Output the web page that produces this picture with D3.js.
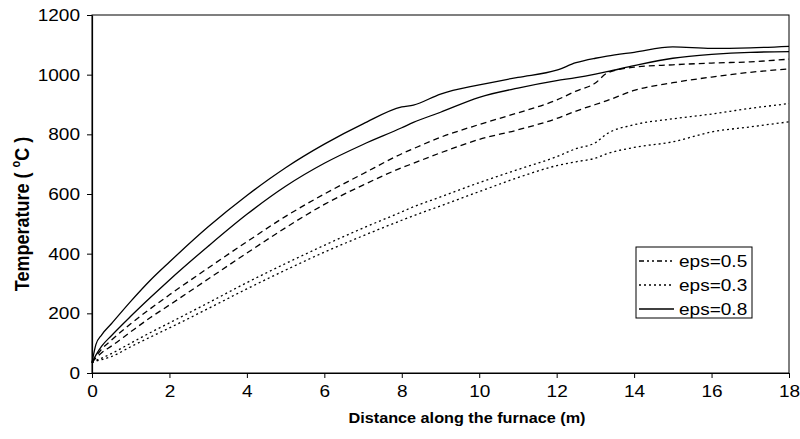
<!DOCTYPE html>
<html><head><meta charset="utf-8">
<script src="https://cdn.jsdelivr.net/npm/d3@7"></script>
<style>html,body{margin:0;padding:0;background:#fff;}svg{display:block;}</style>
</head><body>
<svg id="chart" width="800" height="439"></svg>
<script>
// ---- data ----
const distance = [0, 0.1, 0.25, 0.5, 1, 1.5, 2, 3, 4, 5, 6, 7, 8, 8.3, 9, 10, 11, 12, 12.5, 13, 13.3, 14, 15, 16, 17, 18];
const eps08_upper = [35, 95, 128, 165, 240, 310, 372, 490, 595, 688, 767, 835, 892, 898, 935, 966, 991, 1015, 1040, 1055, 1062, 1075, 1093, 1088, 1090, 1095];
const eps08_lower = [35, 60, 90, 125, 190, 252, 312, 425, 532, 626, 703, 766, 822, 840, 874, 924, 955, 980, 990, 1002, 1010, 1030, 1055, 1068, 1075, 1077];
const eps05_upper = [35, 55, 80, 110, 165, 215, 262, 352, 440, 525, 600, 668, 735, 752, 790, 833, 872, 915, 945, 972, 1005, 1025, 1033, 1039, 1043, 1052];
const eps05_lower = [35, 50, 68, 90, 138, 185, 228, 315, 402, 487, 565, 630, 688, 703, 738, 783, 815, 853, 878, 900, 913, 947, 973, 992, 1008, 1019];
const eps03_upper = [35, 42, 50, 65, 100, 135, 168, 235, 303, 367, 428, 486, 540, 557, 590, 638, 682, 725, 752, 772, 802, 832, 852, 868, 887, 903];
const eps03_lower = [35, 40, 45, 55, 88, 120, 151, 216, 282, 345, 405, 460, 512, 527, 560, 608, 655, 695, 708, 720, 735, 756, 775, 808, 825, 842];
const xTicks = [0, 2, 4, 6, 8, 10, 12, 14, 16, 18];
const yTicks = [0, 200, 400, 600, 800, 1000, 1200];
const legendLabels = ["eps=0.5", "eps=0.3", "eps=0.8"];

const seriesList = [
  {key: "eps=0.8", values: eps08_upper, dash: null},
  {key: "eps=0.8", values: eps08_lower, dash: null},
  {key: "eps=0.5", values: eps05_upper, dash: "6,4"},
  {key: "eps=0.5", values: eps05_lower, dash: "6,4"},
  {key: "eps=0.3", values: eps03_upper, dash: "2,3"},
  {key: "eps=0.3", values: eps03_lower, dash: "2,3"}
];
const legendDash = {"eps=0.5": "5,3,2,3,2,3", "eps=0.3": "2,3", "eps=0.8": null};

// ---- layout ----
const SX = 1.12; // horizontal glyph stretch seen in reference
const FONT = "'Liberation Sans', Arial, sans-serif";
const L = 92, R = 789, T = 15, B = 373;
const svg = d3.select("#chart");
const x = d3.scaleLinear().domain([0, 18]).range([L, R]);
const y = d3.scaleLinear().domain([0, 1200]).range([B, T]);

// frame
svg.append("rect").attr("x", L).attr("y", T).attr("width", R - L).attr("height", B - T)
  .attr("fill", "none").attr("stroke", "#000").attr("stroke-width", 1);

// axes
const gx = svg.append("g").attr("transform", `translate(0,${B})`)
  .call(d3.axisBottom(x).tickValues(xTicks).tickFormat(d3.format("d")).tickSize(5).tickSizeOuter(0));
const gy = svg.append("g").attr("transform", `translate(${L},0)`)
  .call(d3.axisLeft(y).tickValues(yTicks).tickFormat(d3.format("d")).tickSize(5).tickSizeOuter(0));
[gx, gy].forEach(g => {
  g.selectAll("path.domain").attr("stroke", "#000").attr("stroke-width", 1.2);
  g.selectAll(".tick line").attr("stroke", "#000").attr("stroke-width", 1);
  g.selectAll(".tick text").attr("font-family", FONT).attr("font-size", 17).attr("fill", "#000");
});
gx.selectAll(".tick text").attr("transform", `scale(${SX},1)`).attr("y", 0).attr("dy", "1.4em");
gy.selectAll(".tick text").attr("x", -12 / SX).attr("transform", `scale(${SX},1)`);

// lines
const line = d3.line().x((d, i) => x(distance[i])).y(d => y(d)).curve(d3.curveMonotoneX);
svg.append("g").selectAll("path").data(seriesList).join("path")
  .attr("d", s => line(s.values))
  .attr("fill", "none").attr("stroke", "#000").attr("stroke-width", 1.3)
  .attr("stroke-dasharray", s => s.dash);

// axis titles
svg.append("text").attr("transform", `translate(467,423) scale(${SX},1)`)
  .attr("text-anchor", "middle").attr("font-family", FONT).attr("font-weight", "bold")
  .attr("font-size", 14.5).text("Distance along the furnace (m)");
const yt = svg.append("text").attr("transform", `translate(29,214) rotate(-90) scale(1,${SX})`)
  .attr("text-anchor", "middle").attr("font-family", FONT).attr("font-weight", "bold")
  .attr("font-size", 18);
yt.append("tspan").text("Temperature ( ");
yt.append("tspan").attr("font-size", 11).attr("dy", -8).text("o");
yt.append("tspan").attr("dy", 8).text("C )");

// legend
const lg = svg.append("g");
lg.append("rect").attr("x", 636).attr("y", 247).attr("width", 116).attr("height", 71)
  .attr("fill", "#fff").attr("stroke", "#000").attr("stroke-width", 1);
legendLabels.forEach((lab, i) => {
  const cy = 261 + i * 24;
  lg.append("line").attr("x1", 639).attr("x2", 674).attr("y1", cy).attr("y2", cy)
    .attr("stroke", "#000").attr("stroke-width", 1.3).attr("stroke-dasharray", legendDash[lab]);
  lg.append("text").attr("transform", `translate(679,${cy + 6}) scale(${SX},1)`)
    .attr("font-family", FONT).attr("font-size", 17).text(lab);
});
</script>
</body></html>
